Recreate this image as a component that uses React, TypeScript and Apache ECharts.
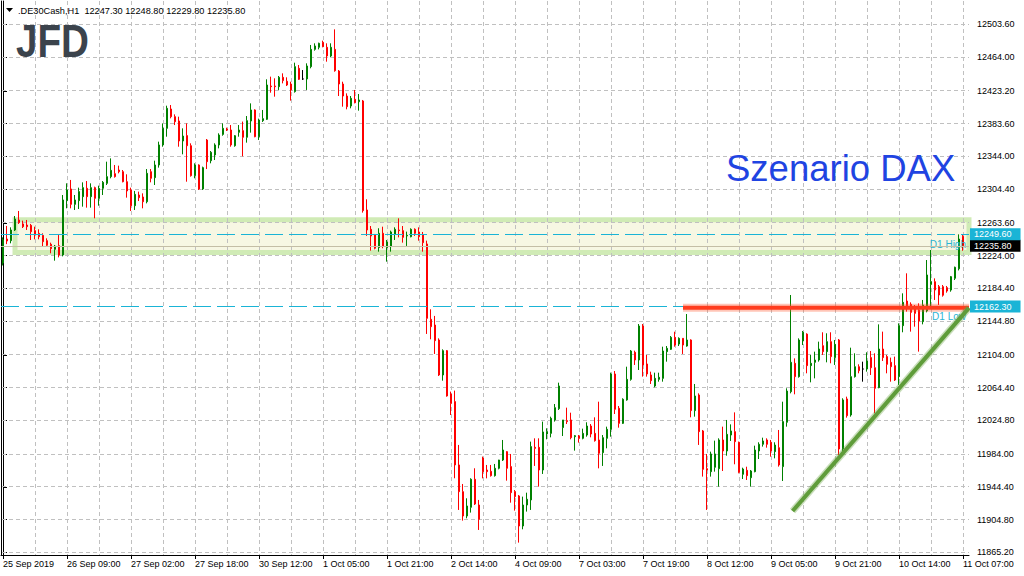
import React, { useEffect, useRef } from "react";
import * as echarts from "echarts";

const FONT = "Liberation Sans";

const xTickLabels = [
  "25 Sep 2019", "26 Sep 09:00", "27 Sep 02:00", "27 Sep 18:00", "30 Sep 12:00", "1 Oct 05:00",
  "1 Oct 21:00", "2 Oct 14:00", "4 Oct 09:00", "7 Oct 03:00", "7 Oct 19:00", "8 Oct 12:00",
  "9 Oct 05:00", "9 Oct 21:00", "10 Oct 14:00", "11 Oct 07:00",
];

const yTickValues = [
  12503.6, 12464.0, 12423.2, 12383.6, 12344.0, 12304.4, 12263.6, 12224.0, 12184.4,
  12144.8, 12104.0, 12064.4, 12024.8, 11984.0, 11944.4, 11904.8, 11865.2,
];

const opens = [
  12215, 12244.0, 12242.0, 12254.9, 12266.9, 12262.2, 12260.9, 12260.5, 12254.1, 12250.9,
  12248.4, 12242.0, 12237.6, 12231.5, 12235.9, 12224.7, 12290.4, 12304.5, 12285.9, 12290.4,
  12295.2, 12305.3, 12295.2, 12306.1, 12293.2, 12305.3, 12311.3, 12319.4, 12323.0, 12327.4,
  12325.4, 12313.3, 12303.3, 12284.3, 12297.2, 12294.8, 12289.1, 12325.4, 12318.2, 12333.5,
  12357.7, 12377.8, 12401.2, 12391.9, 12386.7, 12362.5, 12369.0, 12356.8, 12320.6, 12333.5,
  12304.5, 12363.7, 12338.7, 12345.6, 12357.7, 12370.5, 12377.0, 12375.8, 12356.8, 12373.0,
  12375.0, 12367.0, 12386.7, 12400.0, 12367.7, 12387.1, 12388.7, 12429.0, 12429.0, 12428.2,
  12439.5, 12434.7, 12431.4, 12422.2, 12450.4, 12437.5, 12437.5, 12452.4, 12473.3, 12475.8,
  12481.8, 12475.8, 12465.3, 12473.3, 12447.1, 12431.4, 12416.9, 12404.8, 12412.9, 12410.0,
  12410.9, 12279.1, 12255.7, 12248.9, 12233.6, 12250.9, 12233.6, 12234.8, 12250.1, 12254.9,
  12254.1, 12247.7, 12246.8, 12255.7, 12252.5, 12248.9, 12238.0, 12146.9, 12140.0, 12121.9,
  12079.6, 12109.0, 12056.6, 12047.4, 11970.8, 11938.5, 11909.1, 11919.6, 11953.5, 11922.4,
  11979.2, 11964.7, 11963.1, 11957.9, 11966.8, 11976.8, 11986.9, 11968.8, 11938.5, 11933.3,
  11897.0, 11922.4, 11928.5, 11992.1, 11992.1, 11964.7, 12008.2, 12009.0, 12025.2, 12038.9,
  12016.0, 12024.4, 12025.2, 12005.0, 12005.8, 12003.0, 12007.0, 12017.9, 12009.0, 12001.0,
  11985.7, 12003.0, 12013.9, 12080.8, 12039.3, 12021.1, 12049.4, 12074.3, 12107.0, 12097.7,
  12138.8, 12092.9, 12079.6, 12066.3, 12074.3, 12075.5, 12107.8, 12110.6, 12125.1, 12117.0,
  12123.9, 12114.6, 12121.9, 12036.5, 12055.4, 12011.9, 11966.3, 11962.7, 11968.0, 11966.3,
  12001.0, 11987.7, 12007.0, 12011.1, 11998.2, 11959.5, 11964.3, 11955.4, 11962.7, 11987.7,
  11995.8, 12001.0, 11998.2, 11986.9, 11991.7, 11968.8, 12022.4, 12059.4, 12093.7, 12077.6,
  12120.7, 12129.0, 12090.9, 12094.9, 12097.7, 12115.0, 12107.8, 12119.9, 12100.6, 12121.9,
  11990.1, 12050.6, 12031.2, 12077.6, 12089.6, 12086.8, 12086.8, 12100.6, 12088.4, 12064.3,
  12111.0, 12101.8, 12094.9, 12090.9, 12077.6, 12139.2, 12169.0, 12165.0, 12162.2, 12158.2,
  12144.1, 12157.0, 12189.2, 12192.4, 12186.4, 12186.4, 12185.2, 12182.3, 12196.5, 12208.0,
  12247.3,
];

const highs = [
  12246, 12259.8, 12258.1, 12271.8, 12277.9, 12266.2, 12267.0, 12262.2, 12258.9, 12255.7,
  12250.9, 12244.8, 12239.6, 12236.8, 12248.8, 12297.2, 12311.3, 12315.4, 12297.2, 12306.1,
  12312.5, 12314.1, 12311.3, 12307.3, 12308.5, 12314.1, 12337.5, 12341.5, 12333.5, 12332.7,
  12327.4, 12322.2, 12306.1, 12302.1, 12301.3, 12299.2, 12328.6, 12328.6, 12338.7, 12361.7,
  12383.8, 12405.2, 12406.0, 12394.7, 12391.9, 12377.8, 12383.8, 12359.7, 12335.5, 12334.3,
  12331.5, 12364.9, 12350.4, 12359.7, 12371.8, 12383.8, 12378.6, 12381.8, 12369.7, 12381.8,
  12386.0, 12392.7, 12408.0, 12400.8, 12389.5, 12400.0, 12437.1, 12440.3, 12438.3, 12441.1,
  12444.3, 12439.5, 12434.2, 12457.2, 12454.4, 12448.3, 12456.4, 12478.6, 12480.6, 12481.4,
  12483.8, 12480.6, 12480.6, 12497.5, 12448.3, 12434.2, 12420.1, 12416.9, 12424.2, 12419.3,
  12412.1, 12292.0, 12259.7, 12250.1, 12257.0, 12258.9, 12242.8, 12254.1, 12258.1, 12269.0,
  12259.7, 12252.9, 12256.9, 12256.9, 12258.1, 12252.5, 12242.0, 12159.0, 12151.0, 12123.9,
  12110.6, 12109.8, 12059.5, 12060.7, 11995.0, 11947.8, 11930.5, 11954.7, 11966.8, 11928.5,
  11980.9, 11970.8, 11970.8, 11972.0, 11977.0, 12001.0, 11987.5, 11984.1, 11940.5, 11934.5,
  11932.5, 11937.3, 11999.0, 12003.0, 12003.0, 12023.2, 12015.1, 12029.2, 12044.5, 12070.3,
  12025.2, 12040.1, 12034.0, 12007.0, 12007.0, 12014.7, 12022.4, 12020.3, 12028.4, 12047.3,
  12007.0, 12017.1, 12082.4, 12084.4, 12042.1, 12051.4, 12089.6, 12109.8, 12109.0, 12141.2,
  12141.2, 12103.8, 12083.6, 12082.4, 12082.4, 12113.8, 12114.6, 12126.7, 12131.9, 12125.1,
  12123.9, 12153.3, 12122.7, 12068.7, 12057.4, 12013.1, 11984.1, 11986.9, 12000.2, 12003.0,
  12017.1, 12025.2, 12019.9, 12034.4, 11999.0, 11967.5, 11968.7, 11964.7, 11994.1, 11998.2,
  12003.8, 12003.0, 12001.0, 11998.2, 12013.1, 12047.3, 12063.5, 12176.3, 12099.7, 12123.9,
  12132.8, 12130.0, 12103.8, 12107.8, 12119.9, 12131.2, 12130.0, 12131.2, 12121.9, 12123.1,
  12051.4, 12053.4, 12112.6, 12105.8, 12092.5, 12095.7, 12107.0, 12108.6, 12105.8, 12140.8,
  12132.0, 12103.8, 12100.6, 12101.8, 12142.0, 12178.3, 12202.5, 12167.4, 12164.2, 12166.2,
  12170.3, 12218.6, 12230.7, 12196.4, 12188.4, 12188.4, 12187.2, 12199.3, 12210.6, 12249.6,
  12248.8,
];

const lows = [
  12212, 12237.8, 12238.8, 12253.7, 12262.2, 12257.3, 12254.9, 12242.8, 12243.6, 12243.6,
  12234.8, 12234.8, 12226.7, 12217.8, 12221.8, 12223.0, 12281.1, 12281.1, 12279.1, 12280.3,
  12283.1, 12281.9, 12281.9, 12269.0, 12284.3, 12297.2, 12309.3, 12317.4, 12318.2, 12323.4,
  12312.5, 12294.0, 12277.9, 12279.1, 12289.9, 12281.1, 12287.1, 12312.5, 12309.3, 12330.3,
  12355.6, 12367.7, 12389.9, 12381.8, 12355.6, 12346.4, 12313.3, 12319.4, 12317.4, 12303.3,
  12303.3, 12328.6, 12335.5, 12339.5, 12353.6, 12368.9, 12374.6, 12355.6, 12355.6, 12367.7,
  12344.0, 12360.5, 12372.6, 12367.0, 12363.7, 12385.5, 12387.9, 12420.9, 12416.1, 12424.2,
  12432.2, 12429.0, 12411.3, 12421.0, 12436.3, 12436.3, 12424.2, 12450.4, 12471.7, 12473.3,
  12475.8, 12458.4, 12463.7, 12446.3, 12416.9, 12404.0, 12400.8, 12402.0, 12408.0, 12399.2,
  12275.9, 12247.7, 12229.9, 12231.5, 12228.7, 12232.8, 12216.6, 12228.7, 12242.8, 12246.0,
  12239.6, 12235.6, 12246.0, 12247.7, 12242.0, 12228.7, 12129.2, 12122.7, 12105.0, 12078.4,
  12072.7, 12053.4, 12031.2, 11954.7, 11916.4, 11903.5, 11906.3, 11913.2, 11922.4, 11892.2,
  11954.6, 11954.6, 11956.7, 11956.7, 11965.5, 11975.6, 11951.8, 11925.2, 11915.6, 11876.9,
  11893.0, 11914.4, 11916.4, 11969.6, 11944.6, 11959.9, 12001.8, 12004.2, 12023.2, 12037.3,
  12005.8, 12020.3, 12001.8, 11988.1, 11997.8, 12001.8, 12005.0, 12004.2, 11999.0, 11966.7,
  11969.6, 11990.9, 12005.0, 12032.4, 12015.9, 12020.3, 12048.5, 12072.7, 12091.7, 12085.6,
  12077.6, 12077.6, 12068.7, 12064.7, 12071.5, 12071.5, 12095.7, 12109.8, 12113.8, 12114.6,
  12105.0, 12113.8, 12028.4, 12029.2, 11995.0, 11956.7, 11916.4, 11956.7, 11962.7, 11944.6,
  11963.5, 11982.0, 11999.8, 11971.6, 11960.7, 11953.8, 11952.6, 11944.6, 11961.9, 11978.0,
  11993.0, 11991.7, 11980.8, 11978.8, 11968.8, 11951.4, 12017.1, 12057.4, 12056.2, 12076.4,
  12115.8, 12081.6, 12070.7, 12075.5, 12095.7, 12103.8, 12094.9, 12093.7, 12091.7, 11982.9,
  11987.7, 12028.0, 12029.2, 12076.4, 12081.6, 12071.5, 12083.6, 12079.6, 12033.2, 12063.5,
  12096.5, 12081.6, 12071.5, 12072.3, 12067.5, 12131.2, 12156.2, 12132.0, 12138.0, 12107.8,
  12140.8, 12155.3, 12162.3, 12170.3, 12164.2, 12174.3, 12179.1, 12180.3, 12194.4, 12206.0,
  12229.8,
];

const closes = [
  12243, 12241.6, 12254.9, 12268.2, 12263.8, 12258.9, 12258.9, 12252.9, 12249.2, 12246.8,
  12240.8, 12236.4, 12232.3, 12235.5, 12224.7, 12291.2, 12303.3, 12285.9, 12291.2, 12301.3,
  12306.1, 12295.2, 12306.1, 12293.2, 12305.3, 12312.5, 12319.4, 12327.0, 12319.4, 12325.4,
  12313.3, 12302.1, 12284.3, 12298.0, 12294.0, 12289.1, 12323.4, 12317.4, 12333.5, 12357.7,
  12377.8, 12402.0, 12391.9, 12385.9, 12362.5, 12368.5, 12356.8, 12320.6, 12333.5, 12304.5,
  12330.3, 12337.5, 12348.8, 12357.7, 12369.7, 12377.8, 12375.8, 12357.7, 12368.9, 12375.8,
  12367.0, 12387.1, 12400.0, 12367.7, 12387.9, 12389.5, 12430.2, 12428.2, 12428.2, 12439.5,
  12435.5, 12430.2, 12424.2, 12452.4, 12437.1, 12437.5, 12453.2, 12473.3, 12477.4, 12480.6,
  12476.6, 12465.3, 12475.8, 12447.5, 12431.4, 12416.9, 12404.0, 12414.1, 12408.8, 12412.1,
  12278.3, 12254.9, 12247.7, 12232.8, 12250.9, 12235.6, 12240.4, 12252.5, 12255.7, 12254.1,
  12246.0, 12248.5, 12255.7, 12250.9, 12246.8, 12239.6, 12148.1, 12138.0, 12121.1, 12079.6,
  12109.0, 12054.2, 12045.3, 11970.8, 11938.5, 11909.1, 11921.2, 11953.5, 11923.6, 11905.1,
  11962.7, 11962.7, 11957.9, 11966.8, 11976.8, 11988.9, 11966.8, 11937.3, 11932.5, 11897.0,
  11922.4, 11929.3, 11993.0, 11990.9, 11964.7, 12010.7, 12011.1, 12027.2, 12040.1, 12066.3,
  12025.2, 12023.2, 12003.8, 12006.2, 12003.0, 12009.0, 12017.9, 12008.2, 12000.2, 11984.9,
  12003.8, 12013.9, 12080.8, 12038.1, 12021.1, 12050.2, 12074.3, 12108.6, 12097.7, 12138.8,
  12091.7, 12080.8, 12072.7, 12075.5, 12076.8, 12108.6, 12111.8, 12125.1, 12115.8, 12123.9,
  12115.8, 12121.9, 12036.5, 12054.2, 12011.1, 11965.5, 11964.7, 11984.1, 11984.1, 12001.0,
  11987.7, 12007.8, 12011.9, 11999.0, 11961.9, 11965.9, 11957.9, 11963.5, 11988.9, 11995.8,
  11999.8, 11995.8, 11987.7, 11994.9, 11970.8, 12023.2, 12060.2, 12094.9, 12077.6, 12121.9,
  12131.2, 12090.9, 12093.7, 12097.7, 12111.0, 12107.8, 12119.9, 12101.8, 12116.6, 11990.1,
  12049.4, 12030.4, 12077.6, 12089.6, 12084.8, 12086.8, 12096.5, 12088.4, 12063.5, 12111.0,
  12100.6, 12092.5, 12089.6, 12073.5, 12139.2, 12167.4, 12161.0, 12155.3, 12154.1, 12144.9,
  12164.2, 12200.5, 12192.4, 12182.3, 12176.3, 12176.0, 12181.1, 12198.5, 12209.8, 12244.0,
  12235.8,
];

const headerSymbol = ".DE30Cash,H1";
const headerValues = ["12247.30", "12248.80", "12229.80", "12235.80"];
const d1High = 12249.6;
const d1Low = 12162.3;
const lastPrice = 12235.8;
const zoneX = [3, 241.5];
const zoneY = [12267.3, 12227.6];
const resistX = [170, 241.5];
const resistY = [12160.8, 12160.8];
const trendX = [197.4, 241.5];
const trendY = [11915.1, 12160.7];
const titleText = "Szenario DAX";
const logoText = "JFD";

const yMin = 11861.93;
const yMax = 12531.77;

export default function App() {
  const ref = useRef<HTMLDivElement>(null);

  useEffect(() => {
    if (!ref.current) return;
    const chart = echarts.init(ref.current, null, { renderer: "svg" });
    const n = opens.length;
    const cats = Array.from({ length: n + 1 }, (_, i) => String(i));
    const candles = opens.map((o, i) => [o, closes[i], lows[i], highs[i]]);
    const vGrid: number[] = [];
    for (let k = 8; k <= n; k += 8) vGrid.push(k);

    const gridColor = "#c0c0c0";
    const DASH = 4;
    const GAP = 3;
    const tag = (bg: string) => ({
      show: true,
      position: "end",
      distance: 1,
      formatter: (p: any) => Number(p.value).toFixed(2),
      color: "#fff",
      backgroundColor: bg,
      padding: [2, 9, 1, 4],
      fontSize: 9,
      fontFamily: FONT,
    });
    const hidden = { color: "rgba(0,0,0,0)", width: 0 };

    const hGridRender = (params: any, api: any) => {
      const cs = params.coordSys;
      const p = api.coord([api.value(0), api.value(1)]);
      const y = Math.floor(p[1]);
      const children: any[] = [];
      const end = cs.x + cs.width;
      for (let x = cs.x + 1; x < end; x += DASH + GAP) {
        children.push({
          type: "rect",
          shape: { x, y, width: Math.min(DASH, end - x), height: 1 },
          style: { fill: gridColor },
        });
      }
      return { type: "group", children };
    };

    const vGridRender = (params: any, api: any) => {
      const cs = params.coordSys;
      const p = api.coord([api.value(0), api.value(1)]);
      const x = Math.floor(p[0]);
      const children: any[] = [];
      const end = cs.y + cs.height;
      for (let y = cs.y; y < end; y += DASH + GAP) {
        children.push({
          type: "rect",
          shape: { x, y, width: 1, height: Math.min(DASH, end - y) },
          style: { fill: gridColor },
        });
      }
      return { type: "group", children };
    };

    const option: any = {
      animation: false,
      backgroundColor: "#fff",
      grid: { left: 1, top: 1, width: 968, height: 554, containLabel: false },
      xAxis: [
        {
          type: "category",
          data: cats,
          boundaryGap: true,
          axisLine: { show: true, lineStyle: { color: "#000", width: 1 } },
          axisTick: { show: true, alignWithLabel: true, interval: 15, length: 4, lineStyle: { color: "#000" } },
          axisLabel: {
            interval: 15,
            align: "left",
            margin: 4,
            fontSize: 9,
            fontFamily: FONT,
            color: "#000",
            formatter: (_v: string, idx: number) => xTickLabels[idx / 16] ?? "",
          },
          splitLine: { show: false },
        },
        { type: "value", min: -0.5, max: n + 0.5, show: false },
      ],
      yAxis: [
        {
          type: "value",
          position: "right",
          min: yMin,
          max: yMax,
          axisLine: { show: true, lineStyle: { color: "#000", width: 1 } },
          axisTick: { show: true, customValues: yTickValues, length: 4, lineStyle: { color: "#000" } },
          axisLabel: {
            customValues: yTickValues,
            formatter: (v: number) => v.toFixed(2),
            margin: 8,
            fontSize: 9,
            fontFamily: FONT,
            color: "#000",
          },
          splitLine: { show: false },
        },
        {
          type: "value",
          position: "left",
          min: yMin,
          max: yMax,
          axisLine: { show: true, onZero: false, lineStyle: { color: "#000", width: 1 } },
          axisTick: { show: false },
          axisLabel: { show: false },
          splitLine: { show: false },
        },
      ],
      series: [
        {
          name: "zone",
          type: "line",
          xAxisIndex: 1,
          data: [],
          z: 0,
          markArea: {
            silent: true,
            z: 0,
            itemStyle: { color: "#f7f7e3", borderColor: "rgba(206,234,178,0.95)", borderWidth: 5 },
            data: [[{ xAxis: zoneX[0], yAxis: zoneY[0] }, { xAxis: zoneX[1], yAxis: zoneY[1] }]],
          },
        },
        {
          name: "hgrid",
          type: "custom",
          xAxisIndex: 1,
          yAxisIndex: 0,
          silent: true,
          z: 1,
          encode: { x: 0, y: 1 },
          data: yTickValues.map((v) => [0, v]),
          renderItem: hGridRender,
        },
        {
          name: "vgrid",
          type: "custom",
          xAxisIndex: 1,
          yAxisIndex: 0,
          silent: true,
          z: 1,
          encode: { x: 0, y: 1 },
          data: vGrid.map((k) => [k, yMin]),
          renderItem: vGridRender,
        },
        {
          name: ".DE30Cash",
          type: "candlestick",
          data: candles,
          barWidth: 2,
          z: 2,
          itemStyle: {
            color: "#008000",
            color0: "#ff0000",
            borderColor: "#008000",
            borderColor0: "#ff0000",
            borderColorDoji: "#000000",
            borderWidth: 1,
          },
        },
        {
          name: "levels",
          type: "line",
          xAxisIndex: 1,
          data: [],
          markLine: {
            silent: true,
            z: 3,
            symbol: "none",
            data: [
              {
                yAxis: d1High,
                lineStyle: { color: "#1ab4d6", type: [18, 6], width: 1 },
                label: { show: true, position: "insideEndBottom", formatter: "D1 High", color: "#2ab4d4", fontSize: 10, fontFamily: FONT, offset: [2, 0] },
              },
              {
                yAxis: d1Low,
                lineStyle: { color: "#1ab4d6", type: [18, 6], width: 1 },
                label: { show: true, position: "insideEndBottom", formatter: "D1 Low", color: "#2ab4d4", fontSize: 10, fontFamily: FONT, offset: [2, 0] },
              },
            ],
          },
        },
        {
          name: "resistanceGlow",
          type: "line",
          xAxisIndex: 1,
          z: 5,
          symbol: "none",
          silent: true,
          data: resistX.map((x, i) => [x, resistY[i]]),
          lineStyle: { color: "rgba(255,90,50,0.35)", width: 8 },
        },
        {
          name: "resistance",
          type: "line",
          xAxisIndex: 1,
          z: 5,
          symbol: "none",
          data: resistX.map((x, i) => [x, resistY[i]]),
          lineStyle: { color: "#ff3c1e", width: 4 },
        },
        {
          name: "trendGlow",
          type: "line",
          xAxisIndex: 1,
          z: 5,
          symbol: "none",
          silent: true,
          data: trendX.map((x, i) => [x, trendY[i]]),
          lineStyle: { color: "rgba(100,160,60,0.35)", width: 7 },
        },
        {
          name: "trend",
          type: "line",
          xAxisIndex: 1,
          z: 5,
          symbol: "none",
          data: trendX.map((x, i) => [x, trendY[i]]),
          lineStyle: { color: "#5f9c3a", width: 4 },
        },
        {
          name: "tags",
          type: "line",
          xAxisIndex: 1,
          data: [],
          markLine: {
            silent: true,
            z: 8,
            symbol: "none",
            data: [
              { yAxis: lastPrice, lineStyle: { color: "#c4bea6", type: "solid", width: 1 }, label: tag("#000000") },
              { yAxis: d1High, lineStyle: hidden, label: tag("#1ab4d6") },
              { yAxis: d1Low, lineStyle: hidden, label: tag("#1ab4d6") },
            ],
          },
        },
      ],
      graphic: {
        elements: [
          {
            type: "polygon",
            z: 10,
            shape: { points: [[6, 8], [13, 8], [9.5, 12]] },
            style: { fill: "#000" },
          },
          {
            type: "text",
            z: 10,
            x: 18,
            y: 11,
            style: {
              text: headerSymbol + "\u00a0 " + headerValues.join(" "),
              fontSize: 9.2,
              fontFamily: FONT,
              fill: "#000",
              verticalAlign: "middle",
            },
          },
          {
            type: "text",
            z: 10,
            x: 16,
            y: 41,
            scaleX: 0.84,
            style: {
              text: logoText,
              fontSize: 46,
              fontWeight: "bold",
              fontFamily: FONT,
              fill: "#3b434c",
              verticalAlign: "middle",
            },
          },
          {
            type: "text",
            z: 10,
            x: 726,
            y: 168,
            style: {
              text: titleText,
              fontSize: 36.5,
              fontFamily: FONT,
              fill: "#1f44e2",
              verticalAlign: "middle",
            },
          },
        ],
      },
    };

    chart.setOption(option);
    return () => chart.dispose();
  }, []);

  return (
    <div
      ref={ref}
      style={{ position: "fixed", left: 0, top: 0, width: 1024, height: 576, background: "#fff" }}
    />
  );
}
